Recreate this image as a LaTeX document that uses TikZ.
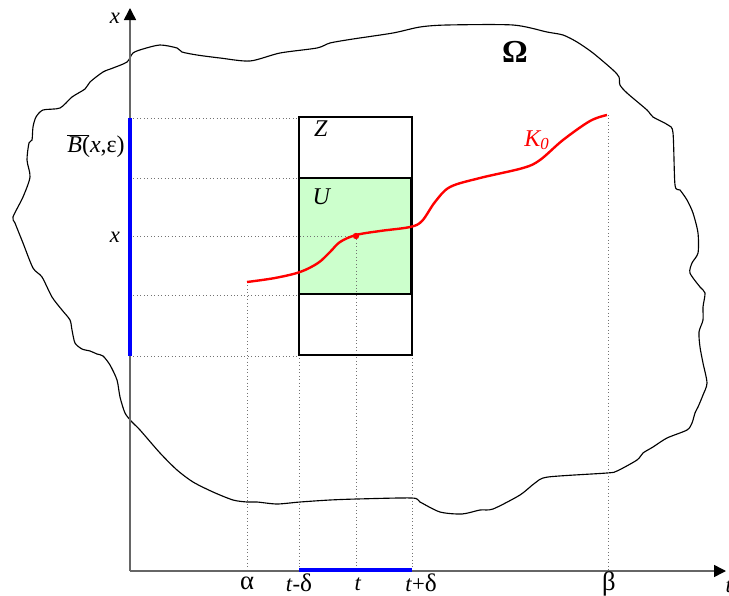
\documentclass[tikz,border=0pt]{standalone}
\usepackage{fontspec}
\setmainfont{Liberation Serif}
\usetikzlibrary{arrows.meta}
\begin{document}
\begin{tikzpicture}[x=0.75pt,y=-0.75pt,
  lbl/.style={font=\fontsize{17}{19}\selectfont, inner sep=0pt},
  greek/.style={font=\fontsize{20}{22}\selectfont, inner sep=0pt},
  axisline/.style={draw=black!60, line width=1.1pt, -{Triangle[length=9pt,width=9pt,color=black]}},
  guide/.style={draw=black!55, dotted, line width=0.6pt},
  blob/.style={draw=black, line width=0.85pt},
  boxline/.style={draw=black, line width=0.8pt},
  ufill/.style={fill=green!20!white, draw=black, line width=0.9pt},
  bluebar/.style={draw=blue, line width=3.6pt},
  redcurve/.style={draw=red, line width=1.8pt}
]
\useasboundingbox (0,0) rectangle (729,596);

% region Omega
\draw[blob] plot[smooth cycle, tension=0.45] coordinates {
 (133,53) (143,49) (160,45) (177,48) (182,52) (197,55) (220,58) (250,61)
 (280,53) (317,48) (330,43) (353,39) (393,33) (420,27) (447,25) (513,25)
 (547,32) (563,35) (577,42) (593,53) (613,70) (619,77) (620,85) (627,93)
 (647,110) (653,117) (668,125) (673,133) (675,185) (680,190) (687,200)
 (693,213) (698,233) (698,253) (692,263) (690,273) (700,287) (705,293)
 (703,307) (703,320) (699,332) (700,347) (703,363) (707,383) (703,395)
 (698,407) (695,413) (692,423) (687,430) (667,438) (653,447) (643,453)
 (637,460) (617,471) (607,473) (548,477) (535,483) (520,495) (493,509)
 (480,510) (462,514) (440,512) (420,502) (412,498) (357,499) (330,500)
 (300,502) (277,504) (257,502) (247,502) (233,500) (213,492) (193,482)
 (177,470) (160,453) (140,430) (132,422) (125,413) (120,397) (117,380)
 (110,365) (103,356) (97,354) (90,351) (82,349) (75,343) (72,330)
 (70,320) (62,310) (52,297) (42,277) (33,268) (23,243) (15,223) (13,217)
 (23,197) (30,177) (27,160) (29,143) (32,140) (33,127) (36,117) (43,110)
 (60,108) (72,97) (85,89) (90,82) (103,72) (113,68) (127,62)};

% named points
\coordinate (O) at (130,571);
\coordinate (ytip) at (130,8);
\coordinate (ttip) at (726,571);
\coordinate (P) at (356,236);

% sets U and Z
\coordinate (Zsw) at (299,355); \coordinate (Zne) at (412,117);
\coordinate (Usw) at (299,294); \coordinate (Une) at (411,178);
\fill[green!20!white] (Usw) rectangle (Une);

% guides
\draw[guide] (130,118) -- (299,118);
\draw[guide] (130,178) -- (299,178);
\draw[guide] (130,236) -- (P);
\draw[guide] (130,295) -- (299,295);
\draw[guide] (130,356) -- (299,356);
\draw[guide] (247,282) -- (247,571);
\draw[guide] (299,355) -- (299,571);
\draw[guide] (P) -- (356,571);
\draw[guide] (412,355) -- (412,571);
\draw[guide] (608,115) -- (608,571);

\draw[boxline] (Zsw) rectangle (Zne);
\draw[ufill, fill=none] (Usw) rectangle (Une);

% axes
\draw[axisline] (O) -- (ytip);
\draw[axisline] (O) -- (ttip);

% blue bars
\draw[bluebar] (130,118) -- (130,356);
\draw[bluebar, line width=3pt] (299,570) -- (412,570);

% curve K0
\draw[redcurve] plot[smooth, tension=0.55] coordinates {
 (247,282) (275,278) (300,272) (318,263) (330,252) (340,242) (356,235)
 (380,231) (410,227) (422,221) (435,202) (450,187) (480,178) (523,168)
 (540,160) (563,140) (590,121) (607,115)};
\fill[red] (P) circle (3.2);

% labels
\node[lbl] (lx) at (115,18) {\textit{x}};
\node[lbl] (lt) at (729,586) {\textit{t}};
\node[lbl, font=\fontsize{18}{20}\selectfont, anchor=east] (lB) at (125,146) {$\overline{\mbox{\textit{B}}\hspace{5pt}}\hspace{-5pt}$(\textit{x},ε)};
\node[lbl] (lx2) at (115,237) {\textit{x}};
\node[lbl, font=\fontsize{18}{20}\selectfont] (lZ) at (321,129) {\textit{Z}};
\node[lbl, font=\fontsize{18}{20}\selectfont] (lU) at (322,197) {\textit{U}};
\node[lbl, text=red, font=\fontsize{18}{20}\selectfont] (lK) at (537,140) {\textit{K\textsubscript{0}}};
\node[lbl, font=\fontsize{24}{26}\selectfont\bfseries] (lO) at (515,52) {Ω};
\node[greek] (la) at (247,583) {α};
\node[lbl] (ltm) at (299,583) {\textit{t}-{\fontsize{19}{21}\selectfont δ}};
\node[lbl] (lt0) at (358,584) {\textit{t}};
\node[lbl] (ltp) at (421,583) {\textit{t}+{\fontsize{19}{21}\selectfont δ}};
\node[greek] (lb) at (609,584) {β};
\end{tikzpicture}
\end{document}
